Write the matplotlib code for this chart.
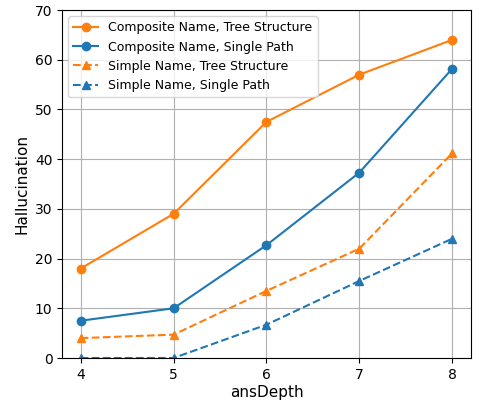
import matplotlib
matplotlib.use('Agg')
import matplotlib.pyplot as plt

depth = [4, 5, 6, 7, 8]
comp_tree = [18, 29, 47.5, 57, 64]
comp_single = [7.5, 10, 22.7, 37.3, 58.2]
simple_tree = [4, 4.7, 13.5, 22, 41.2]
simple_single = [0, 0, 6.7, 15.5, 24]

fig, ax = plt.subplots(figsize=(4.78, 4.0), dpi=100)
fig.subplots_adjust(left=0.13, right=0.985, top=0.975, bottom=0.105)

ax.plot(depth, comp_tree, '-o', ms=6, color='#ff7f0e', label='Composite Name, Tree Structure')
ax.plot(depth, comp_single, '-o', ms=6, color='#1f77b4', label='Composite Name, Single Path')
ax.plot(depth, simple_tree, '--^', ms=6, color='#ff7f0e', label='Simple Name, Tree Structure')
ax.plot(depth, simple_single, '--^', ms=6, color='#1f77b4', label='Simple Name, Single Path')

ax.set_ylim(0, 70)
ax.set_xticks(depth)
ax.set_xlabel('ansDepth', fontsize=11, labelpad=2)
ax.set_ylabel('Hallucination', fontsize=11)
ax.grid(True)
ax.legend(loc='upper left', fontsize=9)

plt.savefig('out.png', dpi=100)
